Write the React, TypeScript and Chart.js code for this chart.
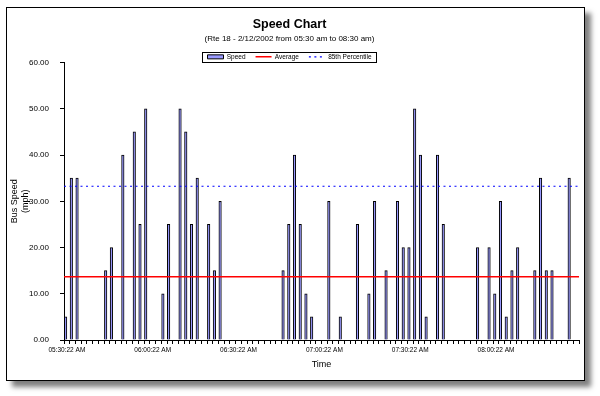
import React, { useEffect, useRef } from 'react';
import { Chart, registerables } from 'chart.js';

Chart.register(...registerables);

const FONT = "'Liberation Sans', Arial, sans-serif";

// Categories: 2-minute buckets from 05:30:22 AM to 08:28:22 AM
const START_HOUR = 5;
const START_MINUTE = 30;
const STEP_MINUTES = 2;
const CATEGORY_COUNT = 90;
const LABEL_EVERY = 15;

const pad2 = (n: number) => String(n).padStart(2, '0');
const TIMES: string[] = Array.from({ length: CATEGORY_COUNT }, (_, i) => {
  const total = START_HOUR * 60 + START_MINUTE + i * STEP_MINUTES;
  return `${pad2(Math.floor(total / 60))}:${pad2(total % 60)}:22 AM`;
});

// Bus speed (mph) per time bucket
const SPEED: number[] = [
  5, 35, 35, 0, 0, 0, 0, 15, 20, 0, 40, 0, 45, 25, 50,
  0, 0, 10, 25, 0, 50, 45, 25, 35, 0, 25, 15, 30, 0, 0,
  0, 0, 0, 0, 0, 0, 0, 0, 15, 25, 40, 25, 10, 5, 0,
  0, 30, 0, 5, 0, 0, 25, 0, 10, 30, 0, 15, 0, 30, 20,
  20, 50, 40, 5, 0, 40, 25, 0, 0, 0, 0, 0, 20, 0, 20,
  10, 30, 5, 15, 20, 0, 0, 15, 35, 15, 15, 0, 0, 35, 0,
];

const AVERAGE_SPEED = 13.67;
const PERCENTILE_85 = 33.25;

const Y_MIN = 0;
const Y_MAX = 60;
const Y_STEP = 10;

const legendBoxPlugin = {
  id: 'legendBox',
  afterDraw(chart: any) {
    const lg = chart.legend;
    if (!lg || !lg.legendHitBoxes || !lg.legendHitBoxes.length) return;
    const hb = lg.legendHitBoxes;
    const left = Math.min(...hb.map((h: any) => h.left)) - 6;
    const right = Math.max(...hb.map((h: any) => h.left + h.width)) + 4;
    const cy = hb[0].top + hb[0].height / 2;
    const ctx = chart.ctx;
    ctx.save();
    ctx.strokeStyle = '#000';
    ctx.lineWidth = 1;
    ctx.setLineDash([]);
    ctx.strokeRect(Math.round(left) + 0.5, Math.round(cy - 5) + 0.5, Math.round(right - left), 10);
    ctx.restore();
  },
};

export default function App() {
  const ref = useRef<HTMLCanvasElement | null>(null);

  useEffect(() => {
    if (!ref.current) return;
    const chart = new Chart(ref.current, {
      type: 'bar',
      data: {
        labels: TIMES,
        datasets: [
          {
            type: 'bar',
            label: 'Speed',
            data: SPEED,
            backgroundColor: '#9999ff',
            borderColor: '#000000',
            borderWidth: 1,
            barThickness: 2.5,
            xAxisID: 'x',
            yAxisID: 'y',
            order: 2,
            pointStyle: 'rect',
          } as any,
          {
            type: 'line',
            label: 'Average',
            data: [
              { x: 0, y: AVERAGE_SPEED },
              { x: 1, y: AVERAGE_SPEED },
            ],
            borderColor: '#ff0000',
            backgroundColor: '#ff0000',
            borderWidth: 1.5,
            pointRadius: 0,
            pointStyle: 'line',
            fill: false,
            xAxisID: 'x2',
            yAxisID: 'y',
            order: 0,
          } as any,
          {
            type: 'line',
            label: '85th Percentile',
            data: [
              { x: 0, y: PERCENTILE_85 },
              { x: 1, y: PERCENTILE_85 },
            ],
            borderColor: '#0000ff',
            backgroundColor: '#0000ff',
            borderWidth: 1.2,
            borderDash: [2, 3.5],
            pointRadius: 0,
            pointStyle: 'line',
            fill: false,
            xAxisID: 'x2',
            yAxisID: 'y',
            order: 1,
          } as any,
        ],
      },
      options: {
        responsive: false,
        animation: false,
        layout: { padding: { top: 17, left: 0, right: 21, bottom: 26 } },
        plugins: {
          title: {
            display: true,
            text: 'Speed Chart',
            color: '#000',
            font: { size: 12.5, weight: 'bold', family: FONT },
            padding: { top: 0, bottom: 2 },
          },
          subtitle: {
            display: true,
            text: '(Rte 18 - 2/12/2002 from 05:30 am to 08:30 am)',
            color: '#000',
            font: { size: 8, family: FONT },
            padding: { top: 0, bottom: 0 },
          },
          legend: {
            display: true,
            position: 'top',
            maxHeight: 19,
            labels: {
              usePointStyle: true,
              pointStyleWidth: 16,
              boxHeight: 4,
              padding: 10,
              color: '#000',
              font: { size: 6.5, family: FONT },
              sort: (a: any, b: any) => a.datasetIndex - b.datasetIndex,
              generateLabels(chart: any) {
                const items = (Chart as any).defaults.plugins.legend.labels.generateLabels(chart);
                return items.map((item: any) => {
                  const ds = chart.data.datasets[item.datasetIndex];
                  if (ds.type === 'line') {
                    item.lineDash = ds.borderDash || [];
                    item.lineWidth = ds.borderWidth;
                    item.strokeStyle = ds.borderColor;
                  }
                  return item;
                });
              },
            },
          },
          tooltip: { enabled: false },
        },
        scales: {
          x: {
            type: 'category',
            offset: true,
            grid: {
              display: true,
              drawOnChartArea: false,
              drawTicks: true,
              tickLength: 4,
              color: '#000',
              offset: true,
            },
            border: { display: true, color: '#000', width: 1 },
            ticks: {
              autoSkip: false,
              maxRotation: 0,
              minRotation: 0,
              padding: 2,
              color: '#000',
              font: { size: 6.5, family: FONT },
              callback: (_v: any, i: number) => (i % LABEL_EVERY === 0 ? TIMES[i] : ''),
            },
            title: {
              display: true,
              text: 'Time',
              color: '#000',
              font: { size: 9, family: FONT },
              padding: 0,
            },
            afterFit(s: any) {
              s.height = 30;
            },
          },
          x2: {
            type: 'linear',
            display: false,
            offset: false,
            grid: { offset: false },
            min: 0,
            max: 1,
          },
          y: {
            min: Y_MIN,
            max: Y_MAX,
            ticks: {
              stepSize: Y_STEP,
              padding: 11,
              color: '#000',
              font: { size: 8, family: FONT },
              callback: (v: any) => Number(v).toFixed(2),
            },
            grid: {
              display: true,
              drawOnChartArea: false,
              tickLength: 4,
              color: '#000',
            },
            border: { display: true, color: '#000', width: 1 },
            title: {
              display: true,
              text: ['Bus Speed', '(mph)'],
              color: '#000',
              font: { size: 9, family: FONT },
              padding: { top: 9, bottom: 0 },
            },
            afterFit(s: any) {
              s.width = 64;
            },
          },
        },
      } as any,
      plugins: [legendBoxPlugin],
    });
    return () => chart.destroy();
  }, []);

  return (
    <div style={{ position: 'fixed', left: 0, top: 0, width: 600, height: 396, background: '#fff' }}>
      <div
        style={{
          position: 'absolute',
          left: 6,
          top: 7,
          width: 579,
          height: 374,
          boxSizing: 'border-box',
          border: '1px solid #000',
          background: '#fff',
          boxShadow: '6px 6px 5px rgba(0,0,0,0.5)',
        }}
      />
      <canvas
        ref={ref}
        width={600}
        height={396}
        style={{ position: 'absolute', left: 0, top: 0, width: 600, height: 396 }}
      />
    </div>
  );
}
